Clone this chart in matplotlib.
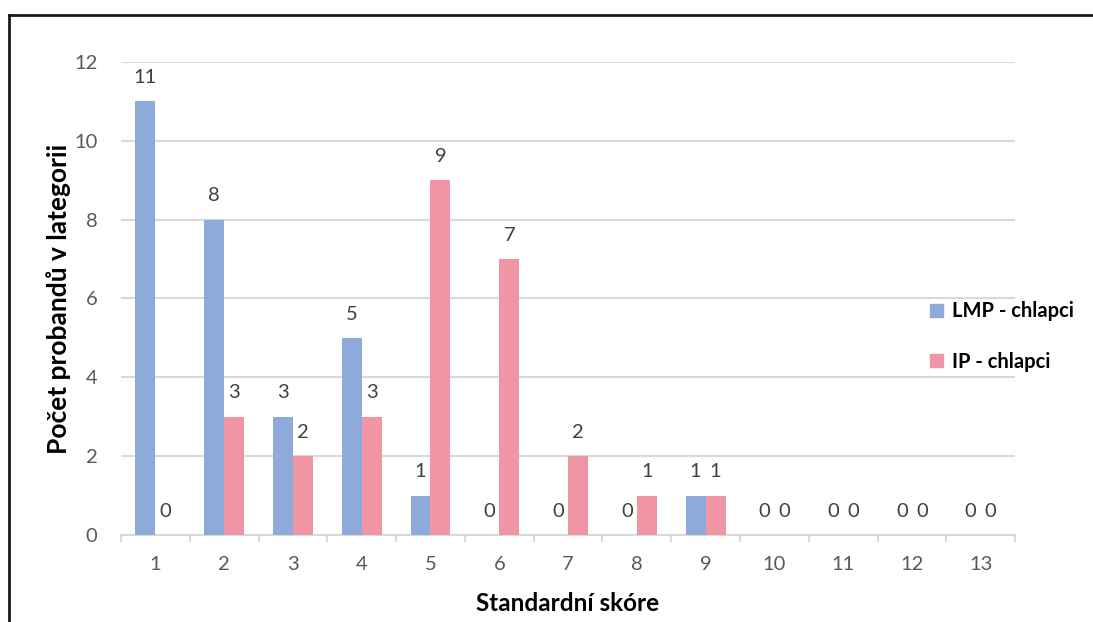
import matplotlib
matplotlib.use("Agg")
import matplotlib.pyplot as plt
from matplotlib.lines import Line2D
from matplotlib.patches import Patch
import numpy as np

categories = ["1", "2", "3", "4", "5", "6", "7", "8", "9", "10", "11", "12", "13"]
lmp_chlapci = [11, 8, 3, 5, 1, 0, 0, 0, 1, 0, 0, 0, 0]
ip_chlapci = [0, 3, 2, 3, 9, 7, 2, 1, 1, 0, 0, 0, 0]
series_names = ["LMP - chlapci", "IP - chlapci"]
y_ticks = [0, 2, 4, 6, 8, 10, 12]

blue = "#8eaadb"
pink = "#f095a4"
tick_col = "#595959"
grid_col = "#d9d9d9"
font = ["Lato", "DejaVu Sans"]

fig = plt.figure(figsize=(10.93, 6.22), dpi=100)
ax = fig.add_axes([0.1107, 0.1399, 0.8180, 0.7604])

x = np.arange(len(categories))
w = 0.29
b1 = ax.bar(x - w / 2, lmp_chlapci, w, color=blue, zorder=3)
b2 = ax.bar(x + w / 2, ip_chlapci, w, color=pink, zorder=3)

for bars, vals in ((b1, lmp_chlapci), (b2, ip_chlapci)):
    for r, v in zip(bars, vals):
        ax.annotate(str(v), (r.get_x() + r.get_width() / 2, v),
                    xytext=(0, 11), textcoords="offset points",
                    ha="center", va="bottom", fontsize=14.5,
                    color="#404040", family=font, zorder=4)

ax.set_xlim(-0.5, len(categories) - 0.5)
ax.set_ylim(0, 12)
ax.set_yticks(y_ticks)
ax.set_yticklabels([str(t) for t in y_ticks], family=font, fontsize=14.5, color=tick_col)
ax.set_xticks(x)
ax.set_xticklabels(categories, family=font, fontsize=14.5, color=tick_col)
ax.tick_params(axis="y", length=0, pad=17)
ax.tick_params(axis="x", length=0, pad=15)

# category boundary ticks below the axis line
for b in np.arange(-0.5, len(categories), 1.0):
    ax.add_line(Line2D([b, b], [0, -0.14], color=grid_col, lw=1.5,
                       clip_on=False, zorder=2))

ax.grid(axis="y", color=grid_col, lw=1.5, zorder=0)
for s in ("left", "right", "top"):
    ax.spines[s].set_visible(False)
ax.spines["bottom"].set_color(grid_col)
ax.spines["bottom"].set_linewidth(1.5)

ax.set_ylabel("Počet probandů v lategorii", family=font, fontsize=19,
              fontweight="bold", color="black", labelpad=2)
ax.set_xlabel("Standardní skóre", family=font, fontsize=17.5,
              fontweight="bold", color="black", labelpad=14)

handles = [Patch(color=blue), Patch(color=pink)]
leg = fig.legend(handles, series_names, loc="center left",
                 bbox_to_anchor=(0.851, 0.459), frameon=False, borderpad=0,
                 borderaxespad=0,
                 prop={"family": font, "size": 14.5, "weight": "bold"},
                 handlelength=0.65, handleheight=0.65, handletextpad=0.45,
                 labelspacing=1.5)

# outer frame (top and left edges)
fig.add_artist(Line2D([9 / 1093, 1.0], [1 - 15 / 622, 1 - 15 / 622],
                      transform=fig.transFigure, color="#1a1a1a", lw=2))
fig.add_artist(Line2D([9 / 1093, 9 / 1093], [0, 1 - 15 / 622],
                      transform=fig.transFigure, color="#1a1a1a", lw=2))

fig.savefig("out.png", dpi=100, facecolor="white")
